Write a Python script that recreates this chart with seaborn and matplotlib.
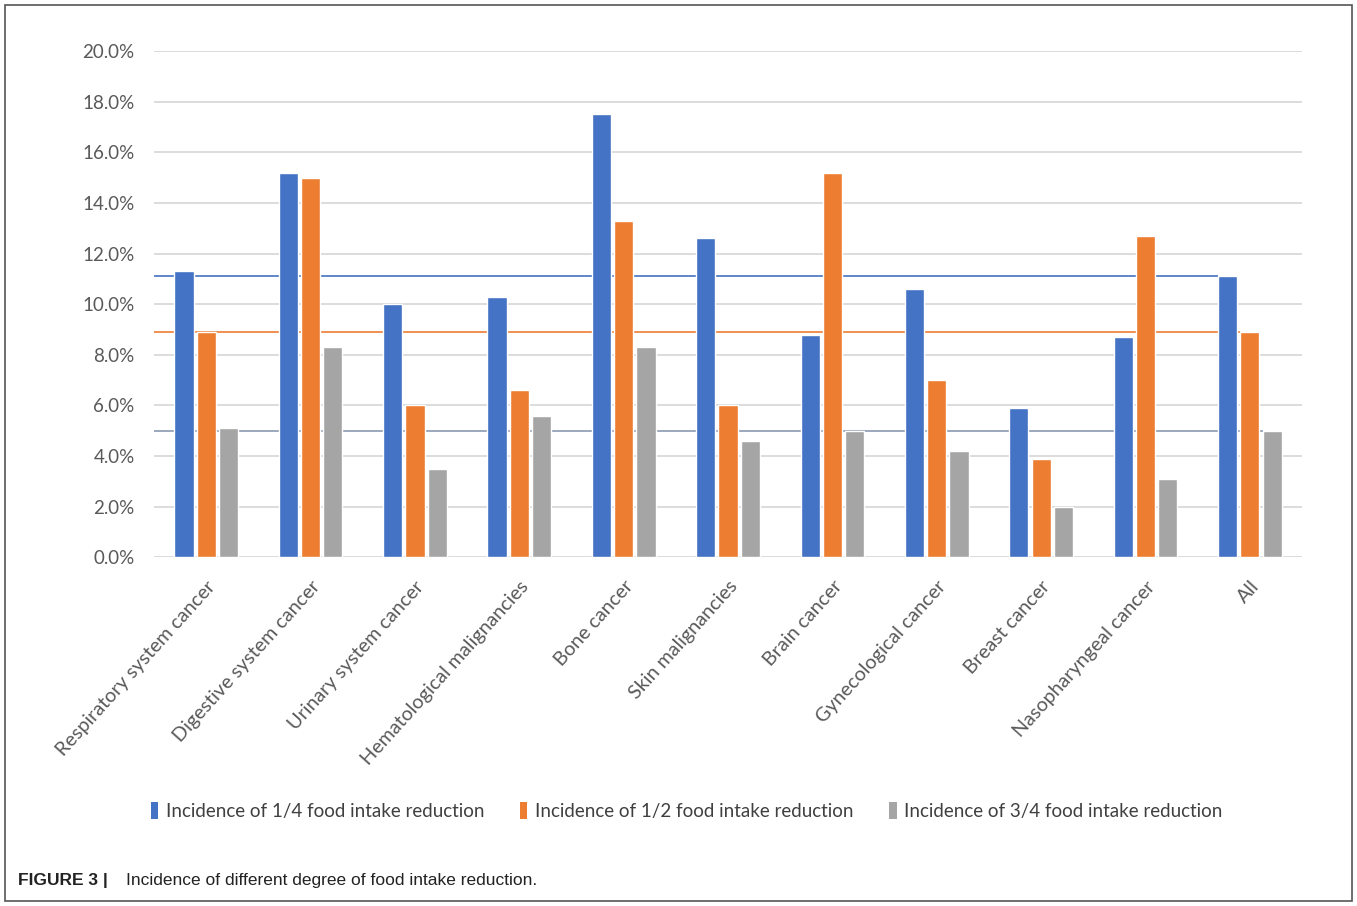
import matplotlib
matplotlib.use("Agg")
import matplotlib.pyplot as plt
import seaborn as sns
import pandas as pd
from matplotlib.patches import Rectangle, Patch
from matplotlib.ticker import FuncFormatter
from matplotlib.transforms import ScaledTranslation

categories = ["Respiratory system cancer", "Digestive system cancer", "Urinary system cancer",
              "Hematological malignancies", "Bone cancer", "Skin malignancies", "Brain cancer",
              "Gynecological cancer", "Breast cancer", "Nasopharyngeal cancer", "All"]
series_names = ["Incidence of 1/4 food intake reduction",
                "Incidence of 1/2 food intake reduction",
                "Incidence of 3/4 food intake reduction"]
quarter = [11.3, 15.2, 10.0, 10.3, 17.5, 12.6, 8.8, 10.6, 5.9, 8.7, 11.1]
half = [8.9, 15.0, 6.0, 6.6, 13.3, 6.0, 15.2, 7.0, 3.9, 12.7, 8.9]
three_quarter = [5.1, 8.3, 3.5, 5.6, 8.3, 4.6, 5.0, 4.2, 2.0, 3.1, 5.0]
colors = ["#4472C4", "#ED7D31", "#A5A5A5"]
line_colors = ["#4472C4", "#ED7D31", "#8A99B0"]

sns.set_style("white")
plt.rcParams['font.family'] = ['Lato', 'DejaVu Sans']

rows = []
for name, vals in zip(series_names, [quarter, half, three_quarter]):
    for c, v in zip(categories, vals):
        rows.append({"category": c, "value": v, "series": name})
df = pd.DataFrame(rows)

fig = plt.figure(figsize=(13.57, 9.06), dpi=100)
ax = fig.add_axes([0.1135, 0.385, 0.846, 0.5585])

sns.barplot(data=df, x="category", y="value", hue="series", hue_order=series_names,
            order=categories, palette=colors, width=0.64, gap=0.14, ax=ax,
            legend=False, saturation=1, zorder=3)

ax.set_ylim(0, 20)
ax.set_xlim(-0.5, len(categories) - 0.5)
ax.set_yticks([0, 2, 4, 6, 8, 10, 12, 14, 16, 18, 20])
ax.yaxis.set_major_formatter(FuncFormatter(lambda v, p: f"{v:.1f}%"))
ax.grid(axis="y", color="#D9D9D9", linewidth=1.3, zorder=0)
ax.set_axisbelow(True)
for s in ax.spines.values():
    s.set_visible(False)
ax.set_xlabel("")
ax.set_ylabel("")
ax.tick_params(axis="y", length=0, labelsize=13.5, colors="#595959", pad=14)
ax.tick_params(axis="x", length=0, labelsize=14.2, colors="#595959", pad=4)
plt.setp(ax.get_xticklabels(), rotation=48, ha="right", rotation_mode="anchor")
offset = ScaledTranslation(0 / 100, -15 / 100, fig.dpi_scale_trans)
for lbl in ax.get_xticklabels():
    lbl.set_transform(lbl.get_transform() + offset)

# average reference lines (values of "All") drawn up to the All bar of each series
n = len(categories)
all_idx = n - 1
all_vals = [quarter[-1], half[-1], three_quarter[-1]]
for cont, val, lc in zip(ax.containers, all_vals, line_colors):
    bar = cont.patches[all_idx]
    ax.hlines(val, -0.5, bar.get_x(), colors=lc, linewidth=1.2, zorder=2)

# legend
handles = [Patch(facecolor=c, edgecolor="none") for c in colors]
fig.legend(handles, series_names, loc="center", bbox_to_anchor=(0.506, 0.105), ncol=3,
           frameon=False, fontsize=13.5, handlelength=0.4, handleheight=1.0,
           handletextpad=0.4, columnspacing=1.9, labelcolor="#404040")

# outer frame
fig.patches.append(Rectangle((5 / 1357, 5 / 906), 1347 / 1357, 896 / 906, transform=fig.transFigure,
                             fill=False, edgecolor="#555555", linewidth=1.2))

# caption
fig.text(18 / 1357, 1 - 880 / 906, "FIGURE 3 |", fontsize=12.5, fontweight="bold",
         family=["Liberation Sans", "DejaVu Sans"], color="#222222", va="center")
fig.text(126 / 1357, 1 - 880 / 906, "Incidence of different degree of food intake reduction.",
         fontsize=12.5, family=["Liberation Sans", "DejaVu Sans"], color="#222222", va="center")

fig.savefig("out.png", dpi=100)
